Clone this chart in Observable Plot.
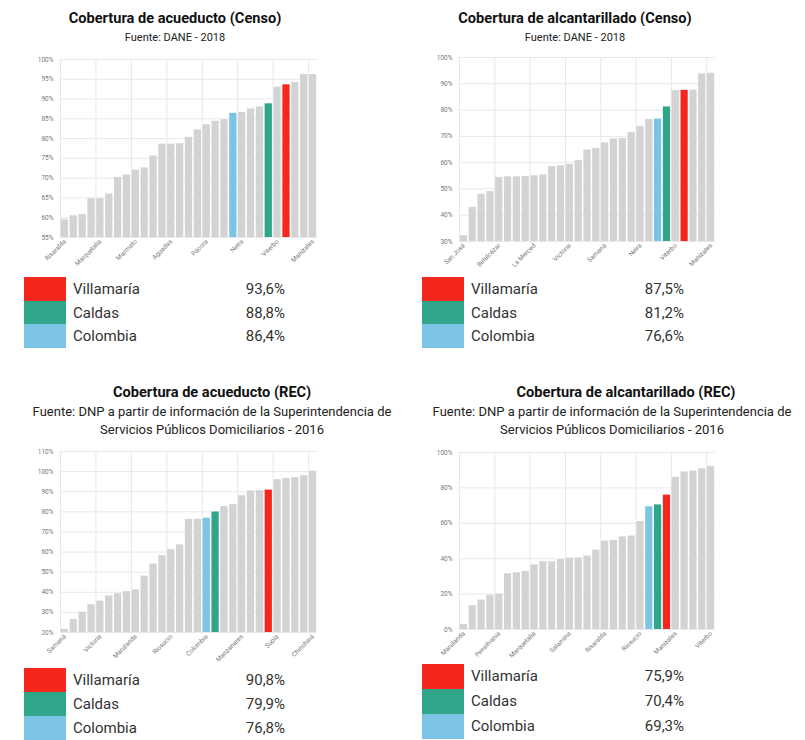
<!DOCTYPE html>
<html>
<head>
<meta charset="utf-8">
<script src="https://cdn.jsdelivr.net/npm/d3@7"></script>
<script src="https://cdn.jsdelivr.net/npm/@observablehq/plot@0.6"></script>
<style>
  body { margin: 0; background: #fff; font-family: Roboto, "Noto Sans", sans-serif; }
  #root { position: relative; width: 805px; height: 740px; overflow: hidden; }
  .title { position: absolute; transform: translateX(-50%); white-space: nowrap; font-weight: bold; font-size: 14.6px; color: #111; text-align: center; }
  .sub { position: absolute; transform: translateX(-50%); white-space: nowrap; color: #222; text-align: center; }
  .chart { position: absolute; }
  .legend { position: absolute; }
  .row { position: relative; height: 23.5px; }
  .sw { position: absolute; left: 0; top: 0; width: 42px; height: 23.5px; }
  .name { position: absolute; left: 49px; top: 3px; font-size: 15px; color: #333; }
  .val { position: absolute; top: 3px; font-size: 15px; color: #333; text-align: right; }
</style>
</head>
<body>
<div id="root"></div>
<script>
// ---------- data ----------
const acueductoCensoValues = [59.5,60.5,60.8,64.8,64.8,66.0,70.2,70.8,72.0,72.6,75.6,78.6,78.6,78.7,80.3,82.2,83.5,84.4,84.8,86.4,86.6,87.5,88.0,88.8,93.0,93.6,94.2,96.2,96.2];
const acueductoCensoLabels = ["Risaralda","Marquetalia","Marmato","Aguadas","Pácora","Neira","Viterbo","Manizales"];
const acueductoCensoHighlight = {19: "Colombia", 23: "Caldas", 25: "Villamaría"};
const acueductoCensoTicks = [55,60,65,70,75,80,85,90,95,100];

const alcantarilladoCensoValues = [32.2,43.0,48.0,49.0,54.4,54.6,54.6,54.7,55.0,55.3,58.5,58.8,59.3,60.8,64.8,65.4,67.5,69.0,69.2,71.4,73.8,76.4,76.6,81.2,87.4,87.5,87.6,93.8,94.0];
const alcantarilladoCensoLabels = ["San José","Belalcázar","La Merced","Victoria","Samaná","Neira","Viterbo","Manizales"];
const alcantarilladoCensoHighlight = {22: "Colombia", 23: "Caldas", 25: "Villamaría"};
const alcantarilladoCensoTicks = [30,40,50,60,70,80,90,100];

const acueductoRecValues = [21.5,26.5,30.0,33.8,35.6,38.2,39.3,40.3,41.2,48.0,54.0,58.2,61.2,63.6,76.2,76.3,76.8,79.9,82.6,83.6,88.0,90.4,90.5,90.8,96.0,96.6,97.0,98.0,100.2];
const acueductoRecLabels = ["Samaná","Victoria","Marulanda","Riosucio","Colombia","Manzanares","Supía","Chinchiná"];
const acueductoRecHighlight = {16: "Colombia", 17: "Caldas", 23: "Villamaría"};
const acueductoRecTicks = [20,30,40,50,60,70,80,90,100,110];

const alcantarilladoRecValues = [2.8,13.5,16.6,19.3,20.0,31.5,32.0,32.8,36.5,38.3,38.3,39.5,40.3,40.4,41.5,44.8,50.0,50.3,52.3,52.8,61.0,69.3,70.4,75.9,86.0,89.0,89.5,90.8,92.0];
const alcantarilladoRecLabels = ["Marulanda","Pensilvania","Marquetalia","Salamina","Risaralda","Riosucio","Manizales","Viterbo"];
const alcantarilladoRecHighlight = {21: "Colombia", 22: "Caldas", 23: "Villamaría"};
const alcantarilladoRecTicks = [0,20,40,60,80,100];

const legendNames = ["Villamaría","Caldas","Colombia"];
const legendAcueductoCenso = ["93,6%","88,8%","86,4%"];
const legendAlcantarilladoCenso = ["87,5%","81,2%","76,6%"];
const legendAcueductoRec = ["90,8%","79,9%","76,8%"];
const legendAlcantarilladoRec = ["75,9%","70,4%","69,3%"];

const groupColors = {"Otro": "#d3d3d3", "Villamaría": "#f5271d", "Caldas": "#2fa68a", "Colombia": "#7cc4e6"};

// ---------- helpers ----------
const root = document.getElementById("root");
function addText(cls, text, x, y, extra) {
  const d = document.createElement("div");
  d.className = cls; d.textContent = text;
  d.style.left = x + "px"; d.style.top = y + "px";
  if (extra) Object.assign(d.style, extra);
  root.appendChild(d);
}
function makeChart(values, labels, highlight, ticks, opt) {
  const n = values.length;
  const data = values.map((v, i) => ({i, v, g: highlight[i] || "Otro"}));
  const yMin = ticks[0], yMax = ticks[ticks.length - 1];
  const labelPos = labels.map((_, k) => k * 4 + 0.5);
  const gridPos = labels.map((_, k) => k * 4);
  const svg = Plot.plot({
    width: opt.width, height: opt.height,
    marginTop: opt.mt, marginBottom: opt.mb, marginLeft: opt.ml, marginRight: opt.mr,
    style: {fontFamily: "Roboto, sans-serif", fontSize: "6.5px", color: "#777", background: "transparent", overflow: "visible"},
    x: {domain: [0, n], axis: null},
    y: {domain: [yMin, yMax], axis: null},
    color: {domain: Object.keys(groupColors), range: Object.values(groupColors)},
    marks: [
      Plot.ruleY(ticks, {stroke: "#e8e8e8", strokeWidth: 1}),
      Plot.ruleX(gridPos, {stroke: "#e8e8e8", strokeWidth: 1}),
      Plot.rectY(data, {x1: "i", x2: d => d.i + 1, y1: yMin, y2: "v", fill: "g", insetLeft: 0.8, insetRight: 0.8}),
      Plot.axisY(ticks, {tickSize: 0, tickPadding: 7, tickFormat: d => d + "%", fill: "#777", label: null}),
      Plot.axisX(labelPos, {tickSize: 0, tickPadding: 3, tickRotate: -45, tickFormat: d => labels[(d - 0.5) / 4], fill: "#777", label: null})
    ]
  });
  const holder = document.createElement("div");
  holder.className = "chart";
  holder.style.left = opt.left + "px"; holder.style.top = opt.top + "px";
  holder.appendChild(svg);
  root.appendChild(holder);
}
function makeLegend(values, left, top, valRight, rowH) {
  const leg = document.createElement("div");
  leg.className = "legend";
  leg.style.left = left + "px"; leg.style.top = top + "px";
  legendNames.forEach((name, k) => {
    const row = document.createElement("div"); row.className = "row"; row.style.height = rowH + "px";
    const sw = document.createElement("div"); sw.className = "sw"; sw.style.background = groupColors[name]; sw.style.height = rowH + "px";
    const nm = document.createElement("div"); nm.className = "name"; nm.textContent = name;
    const vl = document.createElement("div"); vl.className = "val"; vl.textContent = values[k];
    vl.style.right = (-valRight) + "px"; vl.style.width = "80px";
    row.append(sw, nm, vl);
    leg.appendChild(row);
  });
  root.appendChild(leg);
}

// ---------- titles ----------
addText("title", "Cobertura de acueducto (Censo)", 175, 9);
addText("sub", "Fuente: DANE - 2018", 175, 31, {fontSize: "11px"});
addText("title", "Cobertura de alcantarillado (Censo)", 575, 9);
addText("sub", "Fuente: DANE - 2018", 575, 31, {fontSize: "11px"});
addText("title", "Cobertura de acueducto (REC)", 212, 383);
addText("sub", "Fuente: DNP a partir de información de la Superintendencia de", 212, 404, {fontSize: "13px"});
addText("sub", "Servicios Públicos Domiciliarios - 2016", 212, 422, {fontSize: "13px"});
addText("title", "Cobertura de alcantarillado (REC)", 626, 383);
addText("sub", "Fuente: DNP a partir de información de la Superintendencia de", 612, 404, {fontSize: "13px"});
addText("sub", "Servicios Públicos Domiciliarios - 2016", 612, 422, {fontSize: "13px"});

// ---------- charts ----------
makeChart(acueductoCensoValues, acueductoCensoLabels, acueductoCensoHighlight, acueductoCensoTicks,
  {left: 20, top: 54, width: 305, height: 217, mt: 5, mb: 34, ml: 40, mr: 8});
makeChart(alcantarilladoCensoValues, alcantarilladoCensoLabels, alcantarilladoCensoHighlight, alcantarilladoCensoTicks,
  {left: 419, top: 52, width: 304, height: 223, mt: 5, mb: 34, ml: 40, mr: 8});
makeChart(acueductoRecValues, acueductoRecLabels, acueductoRecHighlight, acueductoRecTicks,
  {left: 20, top: 446, width: 305, height: 222, mt: 5, mb: 36, ml: 40, mr: 8});
makeChart(alcantarilladoRecValues, alcantarilladoRecLabels, alcantarilladoRecHighlight, alcantarilladoRecTicks,
  {left: 419, top: 447, width: 304, height: 218, mt: 5, mb: 36, ml: 40, mr: 8});

// ---------- legends ----------
makeLegend(legendAcueductoCenso, 24, 277, 261, 23.5);
makeLegend(legendAlcantarilladoCenso, 422, 277, 262, 23.5);
makeLegend(legendAcueductoRec, 24, 668, 261, 24);
makeLegend(legendAlcantarilladoRec, 422, 664, 262, 25);
</script>
</body>
</html>
